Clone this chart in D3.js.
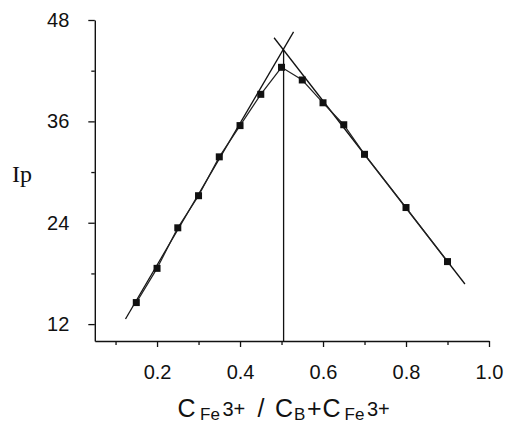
<!DOCTYPE html>
<html>
<head>
<meta charset="utf-8">
<script src="https://cdn.jsdelivr.net/npm/d3@7"></script>
<style>
  html, body { margin: 0; padding: 0; background: #fff; }
  svg { display: block; }
</style>
</head>
<body>
<svg id="chart" width="505" height="424"></svg>
<script>
// ---- data ----
const xValues = [0.15, 0.2, 0.25, 0.3, 0.35, 0.4, 0.45, 0.5, 0.55, 0.6, 0.65, 0.7, 0.8, 0.9];
const ipValues = [14.55, 18.6, 23.4, 27.2, 31.8, 35.5, 39.2, 42.4, 40.9, 38.2, 35.6, 32.1, 25.8, 19.4];
const fitLeft = [[0.124, 12.6], [0.529, 46.6]];
const fitRight = [[0.482, 45.9], [0.942, 16.75]];
const intersectX = 0.505;
const intersectY = 44.5;
const xMajorTicks = [0.2, 0.4, 0.6, 0.8, 1.0];
const xMinorTicks = [0.1, 0.3, 0.5, 0.7, 0.9];
const yMajorTicks = [12, 24, 36, 48];
const yMinorTicks = [18, 30, 42];
const yLabel = "Ip";

// ---- layout ----
const svg = d3.select("#chart");
const x = d3.scaleLinear().domain([0.05, 1.0]).range([94.8, 489]);
const y = d3.scaleLinear().domain([10, 48]).range([341, 20]);
const fmtX = d3.format(".1f");
const font = "'Liberation Sans', Arial, Helvetica, sans-serif";

// axes
const xAxisG = svg.append("g").attr("transform", `translate(0,${y(10)})`);
xAxisG.call(d3.axisBottom(x).tickValues(xMajorTicks).tickSize(6).tickSizeOuter(0).tickPadding(18).tickFormat(fmtX));
xAxisG.append("g").call(d3.axisBottom(x).tickValues(xMinorTicks).tickSize(4).tickSizeOuter(0).tickFormat(""))
  .select(".domain").remove();

const yAxisG = svg.append("g").attr("transform", `translate(${x(0.05)},0)`);
yAxisG.call(d3.axisLeft(y).tickValues(yMajorTicks).tickSize(6.5).tickSizeOuter(0).tickPadding(19).tickFormat(d3.format("d")));
yAxisG.append("g").call(d3.axisLeft(y).tickValues(yMinorTicks).tickSize(3.5).tickSizeOuter(0).tickFormat(""))
  .select(".domain").remove();

svg.selectAll(".domain").attr("stroke", "#111").attr("stroke-width", 1.4);
svg.selectAll(".tick line").attr("stroke", "#111").attr("stroke-width", 1.3);
svg.selectAll(".tick text").attr("font-family", font).attr("font-size", 20).attr("fill", "#111");

// fitted lines
const line = d3.line().x(d => x(d[0])).y(d => y(d[1]));
svg.append("path").datum(fitLeft).attr("d", line).attr("fill", "none").attr("stroke", "#111").attr("stroke-width", 1.3);
svg.append("path").datum(fitRight).attr("d", line).attr("fill", "none").attr("stroke", "#111").attr("stroke-width", 1.3);

// vertical line
svg.append("line")
  .attr("x1", x(intersectX)).attr("x2", x(intersectX))
  .attr("y1", y(intersectY)).attr("y2", y(10))
  .attr("stroke", "#111").attr("stroke-width", 1.3);

// data line
const pts = xValues.map((v, i) => [v, ipValues[i]]);
svg.append("path").datum(pts).attr("d", line).attr("fill", "none").attr("stroke", "#222").attr("stroke-width", 1.2);

// markers
const s = 7;
svg.selectAll("rect.pt").data(pts).enter().append("rect")
  .attr("class", "pt")
  .attr("x", d => x(d[0]) - s / 2).attr("y", d => y(d[1]) - s / 2)
  .attr("width", s).attr("height", s).attr("fill", "#111");

// y label
svg.append("text").attr("x", 12).attr("y", 182)
  .attr("font-family", "'Liberation Serif', 'Times New Roman', serif").attr("font-size", 24)
  .attr("fill", "#111").text(yLabel);

// x title
const title = svg.append("text").attr("font-family", font).attr("fill", "#111");
const parts = [
  { t: "C", x: 177.5, y: 417, fs: 25 },
  { t: "Fe", x: 200, y: 420, fs: 17 },
  { t: "3+", x: 222.5, y: 416, fs: 20 },
  { t: "/", x: 257.5, y: 417, fs: 25 },
  { t: "C", x: 275, y: 417, fs: 25 },
  { t: "B", x: 294, y: 420, fs: 17 },
  { t: "+", x: 307, y: 417, fs: 25 },
  { t: "C", x: 322.5, y: 417, fs: 25 },
  { t: "Fe", x: 344.5, y: 420, fs: 17 },
  { t: "3+", x: 367, y: 416, fs: 20 }
];
parts.forEach(p => {
  title.append("tspan").attr("x", p.x).attr("y", p.y).attr("font-size", p.fs).text(p.t);
});
</script>
</body>
</html>
